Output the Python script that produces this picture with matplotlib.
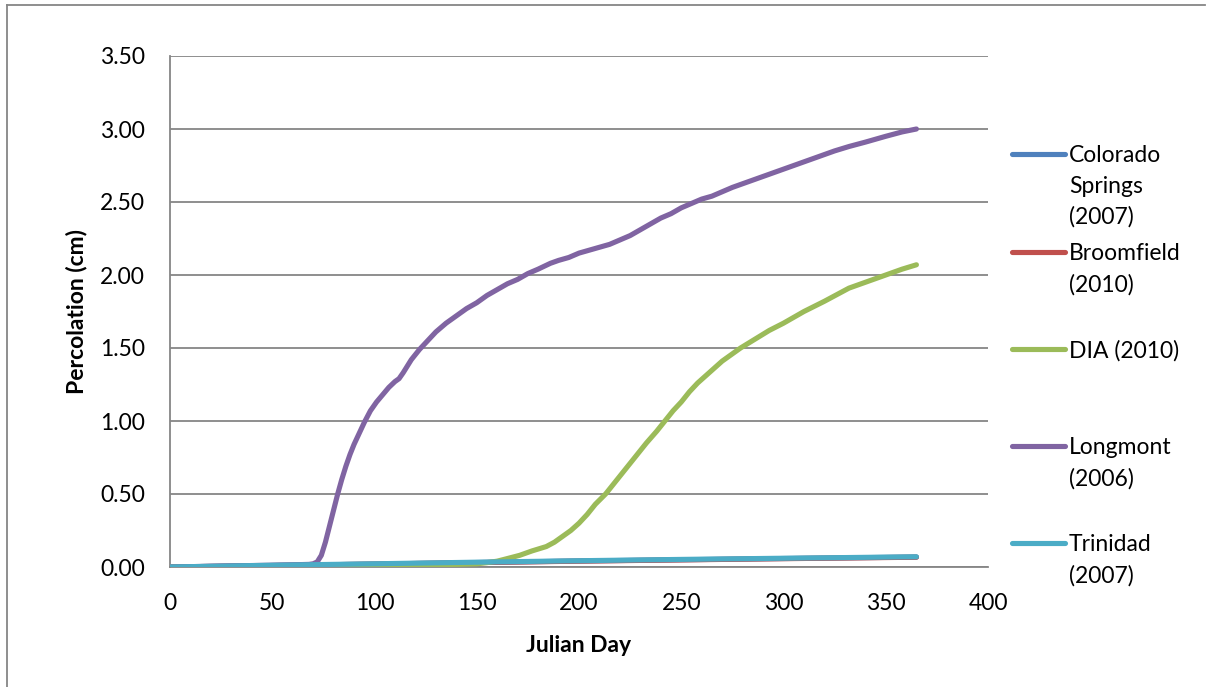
import matplotlib
matplotlib.use("Agg")
import matplotlib.pyplot as plt
from matplotlib.lines import Line2D

plt.rcParams["font.family"] = ["Lato", "DejaVu Sans"]

# Cumulative percolation by Julian day for each site
series_names = [
    "Colorado\nSprings\n(2007)",
    "Broomfield\n(2010)",
    "DIA (2010)",
    "Longmont\n(2006)",
    "Trinidad\n(2007)",
]
series_colors = ["#4F81BD", "#C0504D", "#9BBB59", "#8064A2", "#4BACC6"]

colorado_days = [0, 100, 200, 300, 365]
colorado_perc = [0.0, 0.020, 0.041, 0.058, 0.068]

broomfield_days = [0, 100, 200, 300, 365]
broomfield_perc = [0.0, 0.020, 0.040, 0.057, 0.067]

dia_days = [0, 50, 100, 140, 150, 155, 160, 165, 171, 177, 184, 188, 192,
            196, 200, 204, 208, 213, 217, 221, 225, 229, 233, 238, 242,
            246, 250, 254, 258, 262, 266, 270, 274, 279, 286, 293, 300,
            310, 320, 332, 340, 350, 358, 365]
dia_perc = [0.0, 0.005, 0.01, 0.018, 0.022, 0.03, 0.04, 0.058, 0.08, 0.11,
            0.14, 0.17, 0.21, 0.25, 0.30, 0.36, 0.43, 0.50, 0.57, 0.64,
            0.71, 0.78, 0.85, 0.93, 1.00, 1.07, 1.13, 1.20, 1.26, 1.31,
            1.36, 1.41, 1.45, 1.50, 1.56, 1.62, 1.67, 1.75, 1.82, 1.91,
            1.95, 2.00, 2.04, 2.07]

longmont_days = [0, 20, 40, 60, 68, 70, 72, 74, 76, 78, 80, 82, 84, 86, 88,
                 90, 92, 95, 98, 101, 104, 107, 110, 112, 114, 118, 122,
                 126, 130, 135, 140, 145, 150, 155, 160, 165, 170, 175, 180,
                 186, 190, 195, 200, 205, 210, 215, 220, 225, 230, 235, 240,
                 245, 250, 255, 260, 265, 275, 285, 295, 305, 315, 325, 332,
                 340, 350, 358, 365]
longmont_perc = [0.0, 0.005, 0.01, 0.015, 0.018, 0.022, 0.035, 0.08, 0.17,
                 0.28, 0.39, 0.50, 0.60, 0.69, 0.77, 0.84, 0.90, 0.99, 1.07,
                 1.13, 1.18, 1.23, 1.27, 1.29, 1.33, 1.42, 1.49, 1.55, 1.61,
                 1.67, 1.72, 1.77, 1.81, 1.86, 1.90, 1.94, 1.97, 2.01, 2.04,
                 2.08, 2.10, 2.12, 2.15, 2.17, 2.19, 2.21, 2.24, 2.27, 2.31,
                 2.35, 2.39, 2.42, 2.46, 2.49, 2.52, 2.54, 2.60, 2.65, 2.70,
                 2.75, 2.80, 2.85, 2.88, 2.91, 2.95, 2.98, 3.00]

trinidad_days = [0, 50, 100, 150, 200, 250, 300, 365]
trinidad_perc = [0.0, 0.012, 0.022, 0.033, 0.043, 0.052, 0.060, 0.070]

x_ticks = [0, 50, 100, 150, 200, 250, 300, 350, 400]
y_ticks = [0.0, 0.5, 1.0, 1.5, 2.0, 2.5, 3.0, 3.5]

grid_color = "#868686"
line_w = 3.7
font_size = 16.5

fig = plt.figure(figsize=(12.07, 6.87), dpi=100)
ax = fig.add_axes([170 / 1207, 1 - 567 / 687, 818 / 1207, 511 / 687])

all_series = [
    (colorado_days, colorado_perc),
    (broomfield_days, broomfield_perc),
    (dia_days, dia_perc),
    (longmont_days, longmont_perc),
    (trinidad_days, trinidad_perc),
]
for (days, perc), color in zip(all_series, series_colors):
    ax.plot(days, perc, color=color, lw=line_w, solid_capstyle="round",
            solid_joinstyle="round", zorder=3)

ax.set_xlim(0, 400)
ax.set_ylim(0, 3.5)
ax.set_xticks(x_ticks)
ax.set_yticks(y_ticks)
ax.set_yticklabels([f"{v:.2f}" for v in y_ticks])
ax.tick_params(axis="both", length=0, labelsize=font_size, colors="black")
ax.tick_params(axis="y", pad=18)
ax.tick_params(axis="x", pad=19)

ax.grid(axis="y", color=grid_color, lw=1.3)
ax.set_axisbelow(True)
for side in ["top", "right"]:
    ax.spines[side].set_visible(False)
for side in ["left", "bottom"]:
    ax.spines[side].set_color(grid_color)
    ax.spines[side].set_linewidth(1.3)

ax.set_xlabel("Julian Day", fontsize=font_size, fontweight="bold", labelpad=15)
ax.set_ylabel("Percolation (cm)", fontsize=font_size, fontweight="bold", labelpad=9)

# legend drawn by hand so each swatch sits on the first line of its label
W, H = 1207, 687
legend_rows = [154, 252, 349, 446, 543]
for name, color, row in zip(series_names, series_colors, legend_rows):
    fig.add_artist(Line2D([1012 / W, 1065 / W], [1 - row / H, 1 - row / H],
                          color=color, lw=line_w, solid_capstyle="round"))
    fig.text(1069 / W, 1 - (row - 9) / H, name, fontsize=font_size,
             va="top", ha="left", linespacing=1.56)

# outer chart border (left and top edges)
fig.add_artist(Line2D([7 / W, 7 / W], [0, 1 - 5 / H], color=grid_color, lw=1.3))
fig.add_artist(Line2D([7 / W, 1205 / W], [1 - 5 / H, 1 - 5 / H],
                      color=grid_color, lw=1.3))

fig.savefig("out.png", dpi=100)
